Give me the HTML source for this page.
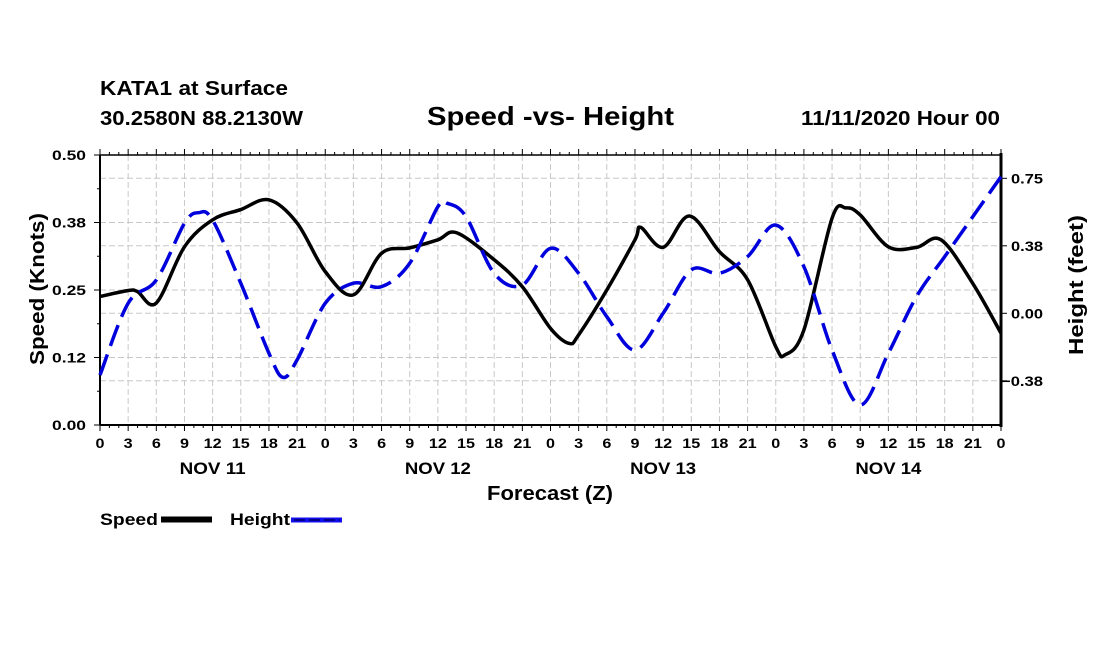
<!DOCTYPE html>
<html><head><meta charset="utf-8"><style>
body{margin:0;background:#fff;}
svg{display:block;font-family:"Liberation Sans",Arial,sans-serif;font-weight:bold;}
</style></head><body>
<svg id="chart" width="1100" height="650" viewBox="0 0 1100 650">
<rect width="1100" height="650" fill="#fff"/>
<text x="100" y="95" font-size="20" textLength="188" lengthAdjust="spacingAndGlyphs">KATA1 at Surface</text>
<text x="100" y="125" font-size="20" textLength="203" lengthAdjust="spacingAndGlyphs">30.2580N 88.2130W</text>
<text x="427" y="125" font-size="26" textLength="247" lengthAdjust="spacingAndGlyphs">Speed -vs- Height</text>
<text x="801" y="125" font-size="20" textLength="199" lengthAdjust="spacingAndGlyphs">11/11/2020 Hour 00</text>
<g id="grid"></g>
<g id="axes"></g>
<g id="series"></g>
<text x="487" y="500" font-size="20" textLength="126" lengthAdjust="spacingAndGlyphs">Forecast (Z)</text>
<text transform="translate(44,365) rotate(-90)" font-size="20" textLength="152" lengthAdjust="spacingAndGlyphs">Speed (Knots)</text>
<text transform="translate(1083,355) rotate(-90)" font-size="20" textLength="140" lengthAdjust="spacingAndGlyphs">Height (feet)</text>
<g>
<text x="100" y="525" font-size="17" textLength="58" lengthAdjust="spacingAndGlyphs">Speed</text>
<line x1="161" y1="519.5" x2="212" y2="519.5" stroke="#000" stroke-width="6"/>
<text x="230" y="525" font-size="17" textLength="60" lengthAdjust="spacingAndGlyphs">Height</text>
<line x1="291" y1="520" x2="342" y2="520" stroke="#1010ee" stroke-width="5"/>
<line x1="294" y1="520" x2="340" y2="520" stroke="#000088" stroke-width="2" stroke-dasharray="11,4"/>
</g>
</svg>
<script>
const speedHours=[0,3,4,6,9,12,15,18,21,24,27,30,33,36,38,42,45,48,50,51,54,57,57.6,60,62.8,66,69,72,73,75,78,79.5,81,84,87,89.6,93,96];
const speedValues=[0.238,0.249,0.247,0.226,0.330,0.380,0.399,0.417,0.374,0.284,0.241,0.318,0.328,0.343,0.356,0.306,0.256,0.179,0.151,0.167,0.250,0.343,0.366,0.329,0.387,0.321,0.269,0.145,0.130,0.176,0.383,0.402,0.389,0.330,0.329,0.343,0.262,0.170];
const heightHours=[0,3,6,9,10.5,12,15,18,19.5,21,24,27,30,33,36,37,39,42,45,48,51,54,57,60,63,66,69,72,75,78,81,84,87,90,93,96];
const heightValues=[-0.343,0.056,0.185,0.5,0.559,0.518,0.167,-0.222,-0.356,-0.259,0.056,0.167,0.148,0.278,0.592,0.611,0.537,0.222,0.157,0.361,0.222,-0.019,-0.204,0,0.241,0.222,0.315,0.49,0.259,-0.204,-0.509,-0.222,0.093,0.315,0.537,0.759];
const xTickLabels=["0","3","6","9","12","15","18","21"];
const dayLabels=["NOV 11","NOV 12","NOV 13","NOV 14"];
const leftTicks=[0,0.125,0.25,0.375,0.5];
const leftTickLabels=["0.00","0.12","0.25","0.38","0.50"];
const rightTicks=[-0.375,0,0.375,0.75];
const rightTickLabels=["\u22120.38","0.00","0.38","0.75"];

const X0=100,X1=1001,YT=155,YB=425;
const xs=h=>X0+h*(X1-X0)/96;
const yL=v=>YB-v*(YB-YT)/0.5;
const yR=v=>313.3-v*67.5/0.375;
const NS="http://www.w3.org/2000/svg";
function mk(tag,attrs,parent){const e=document.createElementNS(NS,tag);for(const k in attrs)e.setAttribute(k,attrs[k]);parent.appendChild(e);return e;}
const grid=document.getElementById('grid'),axes=document.getElementById('axes'),series=document.getElementById('series');
for(let h=3;h<96;h+=3){
  const g=mk('line',{x1:xs(h),x2:xs(h),y1:YT,y2:YB,stroke:'#c8c8c8','stroke-width':1,'stroke-dasharray':'6,3'},grid);
  
  
}
[...leftTicks.map(yL),...rightTicks.map(yR)].forEach(y=>{
  const g=mk('line',{x1:X0,x2:X1,y1:y,y2:y,stroke:'#c8c8c8','stroke-width':1,'stroke-dasharray':'6,3'},grid);
  
  
});
mk('line',{x1:X0,x2:X1,y1:YT,y2:YT,stroke:'#000','stroke-width':1.5},axes);
mk('line',{x1:X0,x2:X1,y1:YB,y2:YB,stroke:'#000','stroke-width':2},axes);
mk('line',{x1:X0,x2:X0,y1:YT,y2:YB,stroke:'#000','stroke-width':2},axes);
mk('line',{x1:X1,x2:X1,y1:YT-2,y2:YB+2,stroke:'#000','stroke-width':3},axes);
for(let h=0;h<=96;h++){
  const major=h%3===0;
  mk('line',{x1:xs(h),x2:xs(h),y1:YB,y2:YB+(major?6:3),stroke:'#000','stroke-width':1},axes);
  mk('line',{x1:xs(h),x2:xs(h),y1:YT,y2:YT-(major?6:3),stroke:'#000','stroke-width':1},axes);
  if(major){
    const lab=xTickLabels[(h/3)%8];
    const w=lab.length*9;
    const t=mk('text',{x:xs(h)-w/2,y:YB+23,'font-size':14,textLength:w,lengthAdjust:'spacingAndGlyphs'},axes);
    t.textContent=lab;
    
    
  }
}
dayLabels.forEach((d,i)=>{
  const t=mk('text',{x:xs(i*24+12)-33,y:474,'font-size':17,textLength:66,lengthAdjust:'spacingAndGlyphs'},axes);
  t.textContent=d;
  
  
});
leftTicks.forEach((v,i)=>{
  mk('line',{x1:X0-6,x2:X0,y1:yL(v),y2:yL(v),stroke:'#000','stroke-width':1},axes);
  const t=mk('text',{x:52,y:yL(v)+5,'font-size':14,textLength:34,lengthAdjust:'spacingAndGlyphs'},axes);
  t.textContent=leftTickLabels[i];
  
  
});
for(let v=0.0625;v<0.5;v+=0.125){mk('line',{x1:X0-3,x2:X0,y1:yL(v),y2:yL(v),stroke:'#000','stroke-width':1},axes);}
rightTicks.forEach((v,i)=>{
  mk('line',{x1:X1,x2:X1+6,y1:yR(v),y2:yR(v),stroke:'#000','stroke-width':1},axes);
  const lab=rightTickLabels[i];
  const w=lab.length>4?42:32;
  const t=mk('text',{x:1043-w,y:yR(v)+5,'font-size':14,textLength:w,lengthAdjust:'spacingAndGlyphs'},axes);
  t.textContent=lab;
  
  
});
function smooth(pts){
  let d=`M${pts[0][0]},${pts[0][1]}`;
  for(let i=0;i<pts.length-1;i++){
    const p0=pts[Math.max(0,i-1)],p1=pts[i],p2=pts[i+1],p3=pts[Math.min(pts.length-1,i+2)];
    const c1=[p1[0]+(p2[0]-p0[0])/6,p1[1]+(p2[1]-p0[1])/6];
    const c2=[p2[0]-(p3[0]-p1[0])/6,p2[1]-(p3[1]-p1[1])/6];
    d+=` C${c1[0]},${c1[1]} ${c2[0]},${c2[1]} ${p2[0]},${p2[1]}`;
  }
  return d;
}
const sp=mk('path',{d:smooth(speedHours.map((h,i)=>[xs(h),yL(speedValues[i])])),fill:'none',stroke:'#000','stroke-width':3.5,'stroke-linejoin':'round'},series);


const hp=mk('path',{d:smooth(heightHours.map((h,i)=>[xs(h),yR(heightValues[i])])),fill:'none',stroke:'#0000dd','stroke-width':3.5,'stroke-dasharray':'22,9'},series);


</script>
</body></html>
